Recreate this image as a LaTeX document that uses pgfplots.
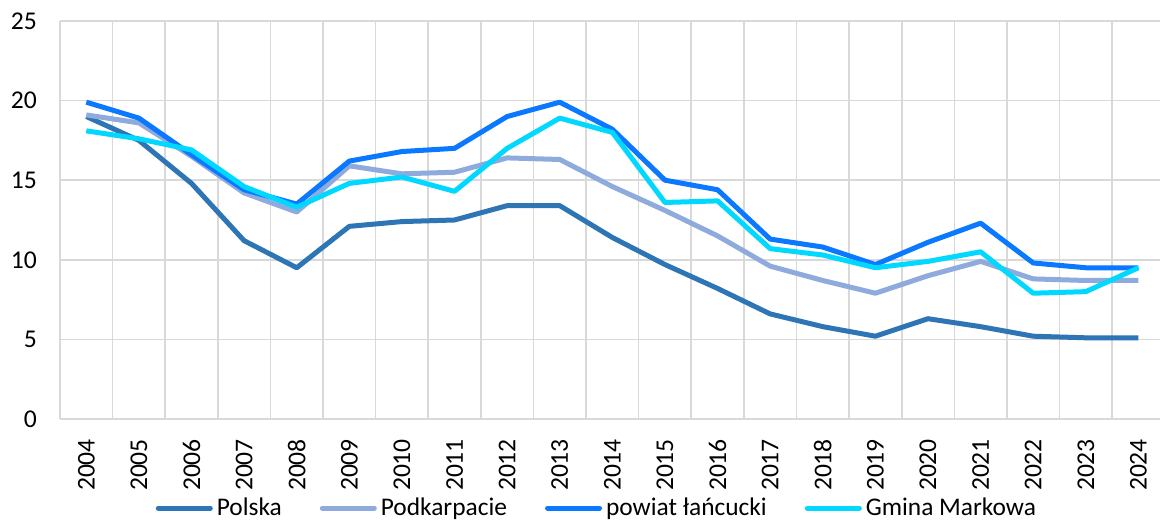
\documentclass[border=0pt]{standalone}
\usepackage{fontspec}
\setmainfont{Carlito}
\usepackage{pgfplots}
\pgfplotsset{compat=1.18}

\definecolor{cPolska}{HTML}{2E75B6}
\definecolor{cPodk}{HTML}{8FAADC}
\definecolor{cPowiat}{HTML}{0A78FF}
\definecolor{cGmina}{HTML}{00D8FF}
\definecolor{gridc}{HTML}{D9D9D9}

\begin{document}
\begin{tikzpicture}
\begin{axis}[
  scale only axis,
  width=550pt,height=199pt,
  xmin=-0.5,xmax=20.41,
  ymin=0,ymax=25,
  ytick={0,5,10,15,20,25},
  xtick={0,...,20},
  xticklabels={2004,2005,2006,2007,2008,2009,2010,2011,2012,2013,2014,2015,2016,2017,2018,2019,2020,2021,2022,2023,2024},
  minor xtick={-0.5,0.5,...,20.5},
  xminorgrids=true,
  ymajorgrids=true,
  major grid style={draw=gridc,line width=0.8pt},
  minor grid style={draw=gridc,line width=0.8pt},
  axis line style={draw=none},
  extra description/.code={\draw[gridc,line width=0.8pt] (rel axis cs:0,0) -- (rel axis cs:1,0);},
  major tick length=0pt,minor tick length=0pt,
  tick style={draw=none},
  ticklabel style={font=\fontsize{12.8}{14}\selectfont},
  /pgf/number format/assume math mode=true,
  yticklabel style={xshift=-8pt},
  xticklabel style={rotate=90,anchor=east,xshift=-6.5pt},
  legend columns=-1,
  legend style={at={(rel axis cs:0.489,-0.224)},anchor=center,draw=none,fill=none,
    font=\fontsize{12.7}{14}\selectfont,
    /tikz/every even column/.append style={column sep=17pt}},
  legend image code/.code={\draw[line width=2.5pt,line cap=round] (0pt,0pt) -- (26pt,0pt);},
  every axis plot/.append style={line width=2.5pt,mark=none,line join=round},
]
\addplot[cPolska] coordinates {
 (0,19.0) (1,17.5) (2,14.8) (3,11.2) (4,9.5) (5,12.1) (6,12.4) (7,12.5) (8,13.4) (9,13.4)
 (10,11.4) (11,9.7) (12,8.2) (13,6.6) (14,5.8) (15,5.2) (16,6.3) (17,5.8) (18,5.2) (19,5.1) (20,5.1)};
\addlegendentry{Polska}
\addplot[cPodk] coordinates {
 (0,19.1) (1,18.6) (2,16.5) (3,14.2) (4,13.0) (5,15.9) (6,15.4) (7,15.5) (8,16.4) (9,16.3)
 (10,14.6) (11,13.1) (12,11.5) (13,9.6) (14,8.7) (15,7.9) (16,9.0) (17,9.9) (18,8.8) (19,8.7) (20,8.7)};
\addlegendentry{Podkarpacie}
\addplot[cPowiat] coordinates {
 (0,19.9) (1,18.9) (2,16.6) (3,14.4) (4,13.5) (5,16.2) (6,16.8) (7,17.0) (8,19.0) (9,19.9)
 (10,18.2) (11,15.0) (12,14.4) (13,11.3) (14,10.8) (15,9.7) (16,11.1) (17,12.3) (18,9.8) (19,9.5) (20,9.5)};
\addlegendentry{powiat łańcucki}
\addplot[cGmina] coordinates {
 (0,18.1) (1,17.6) (2,16.9) (3,14.6) (4,13.3) (5,14.8) (6,15.2) (7,14.3) (8,17.0) (9,18.9)
 (10,18.0) (11,13.6) (12,13.7) (13,10.7) (14,10.3) (15,9.5) (16,9.9) (17,10.5) (18,7.9) (19,8.0) (20,9.5)};
\addlegendentry{Gmina Markowa}
\end{axis}
\pgfresetboundingbox
\path[use as bounding box] (-30pt,-51.5pt) rectangle (550pt,209.5pt);
\end{tikzpicture}
\end{document}
